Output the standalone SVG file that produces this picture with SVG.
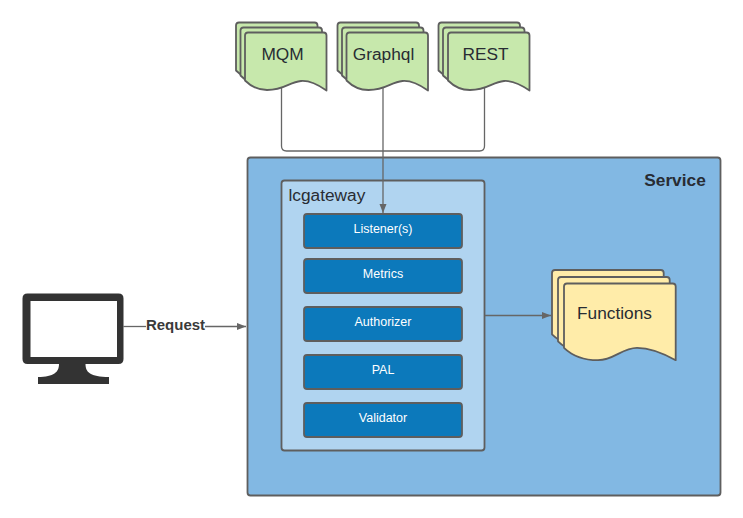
<svg xmlns="http://www.w3.org/2000/svg" width="743" height="518" viewBox="0 0 743 518">
  <style>
    text { font-family: "Liberation Sans", Arial, sans-serif; }
    .doc { stroke: #5e5e5e; stroke-width: 1.800; stroke-linejoin: round; }
    .green { fill: #c7e8ac; }
    .yellow { fill: #ffeca9; }
    .doc-label { font-size: 17.300px; fill: #282c33; text-anchor: middle; }
    .row rect { fill: #0c79bb; stroke: #5e5e5e; stroke-width: 1.800; }
    .row text { font-size: 12.500px; fill: #ffffff; text-anchor: middle; }
    .wire { fill: none; stroke: #666666; stroke-width: 1.300; }
  </style>
  <defs>
    <!-- Small stacked sheet with a wavy lower edge -->
    <path id="sheet" d="M0 3 Q0 0 3 0 H78.500 Q81.500 0 81.500 3 V58 C70 50 62 48 56 48.500 C44 49.500 40 57.500 22 57.500 C12 57.500 5 53 0 48 Z"/>
    <path id="sheet-large" d="M0 3 Q0 0 3 0 H108.700 Q111.700 0 111.700 3 V76.700 C98 69 85 64.300 73 64.300 C58 64.300 50 76.700 34 76.700 C20 76.700 8 72 0 64.300 Z"/>
    <marker id="arrow" markerUnits="userSpaceOnUse" markerWidth="10" markerHeight="8" refX="9" refY="4" orient="auto">
      <path d="M0 0.500 L9 4 L0 7.500 Z" fill="#666666"/>
    </marker>
  </defs>

  <g id="service">
    <rect x="247.500" y="157.500" width="473" height="338" rx="3" fill="#82b8e3" stroke="#5e5e5e" stroke-width="1.800"/>
    <text x="675" y="185.500" font-size="17.300" font-weight="700" fill="#282c33" text-anchor="middle">Service</text>
  </g>

  <g id="lcgateway">
    <rect x="281.500" y="180.500" width="203" height="270" rx="3" fill="#b0d4f0" stroke="#5e5e5e" stroke-width="1.800"/>
    <text x="288.500" y="201" font-size="17.300" fill="#282c33">lcgateway</text>
  </g>

  <g id="connectors">
    <path class="wire" d="M281.500 88 V146 Q281.500 151 286.500 151 H479.500 Q484.500 151 484.500 146 V88"/>
    <path class="wire" d="M383 88 V213" marker-end="url(#arrow)"/>
    <path class="wire" d="M123.500 326.500 H146"/>
    <path class="wire" d="M205 326.500 H246" marker-end="url(#arrow)"/>
    <path class="wire" d="M485 315.500 H551" marker-end="url(#arrow)"/>
  </g>

  <g id="listener" class="row">
    <rect x="304" y="214" width="158" height="34" rx="3"/>
    <text x="383" y="233">Listener(s)</text>
  </g>
  <g id="metrics" class="row">
    <rect x="304" y="259" width="158" height="34" rx="3"/>
    <text x="383" y="278">Metrics</text>
  </g>
  <g id="authorizer" class="row">
    <rect x="304" y="307" width="158" height="34" rx="3"/>
    <text x="383" y="326">Authorizer</text>
  </g>
  <g id="pal" class="row">
    <rect x="304" y="355" width="158" height="34" rx="3"/>
    <text x="383" y="374">PAL</text>
  </g>
  <g id="validator" class="row">
    <rect x="304" y="403" width="158" height="34" rx="3"/>
    <text x="383" y="422">Validator</text>
  </g>

  <g id="mqm">
    <use href="#sheet" class="doc green" x="236" y="22.500"/>
    <use href="#sheet" class="doc green" x="240.500" y="27.500"/>
    <use href="#sheet" class="doc green" x="245" y="32.500"/>
    <text class="doc-label" x="282.500" y="60">MQM</text>
  </g>
  <g id="graphql">
    <use href="#sheet" class="doc green" x="337.500" y="22.500"/>
    <use href="#sheet" class="doc green" x="342" y="27.500"/>
    <use href="#sheet" class="doc green" x="346.500" y="32.500"/>
    <text class="doc-label" x="383.500" y="60">Graphql</text>
  </g>
  <g id="rest">
    <use href="#sheet" class="doc green" x="438.500" y="22.500"/>
    <use href="#sheet" class="doc green" x="443" y="27.500"/>
    <use href="#sheet" class="doc green" x="448" y="32.500"/>
    <text class="doc-label" x="485.500" y="60">REST</text>
  </g>

  <g id="functions">
    <use href="#sheet-large" class="doc yellow" x="552" y="270"/>
    <use href="#sheet-large" class="doc yellow" x="558" y="277"/>
    <use href="#sheet-large" class="doc yellow" x="564" y="283.500"/>
    <text class="doc-label" x="614.500" y="319">Functions</text>
  </g>

  <g id="monitor">
    <path fill-rule="evenodd" fill="#333333" d="M27.500 293.500 H118.500 Q123.500 293.500 123.500 298.500 V359 Q123.500 364 118.500 364 H85.500 C85.500 372 90 377 109 377 V384 H38 V377 C54 377 59 372 59 364 H27.500 Q22.500 364 22.500 359 V298.500 Q22.500 293.500 27.500 293.500 Z M30.500 301 V357 H117 V301 Z"/>
  </g>

  <g id="request-label">
    <text x="175.500" y="330" font-size="15" font-weight="700" fill="#3a3a3a" text-anchor="middle">Request</text>
  </g>
</svg>
